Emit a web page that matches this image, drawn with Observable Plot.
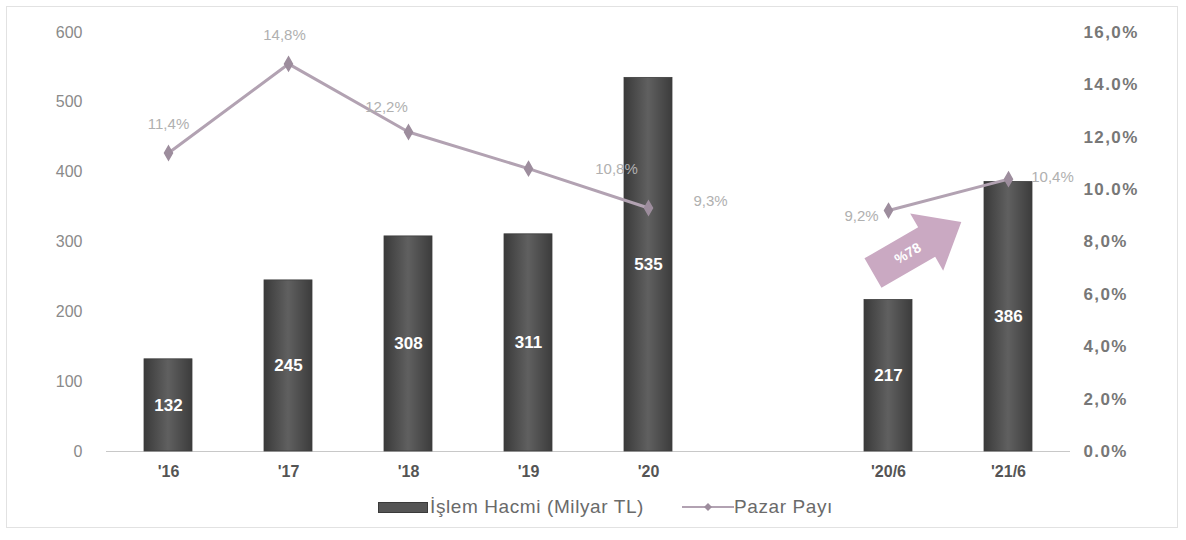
<!DOCTYPE html>
<html>
<head>
<meta charset="utf-8">
<script src="https://cdn.jsdelivr.net/npm/d3@7"></script>
<script src="https://cdn.jsdelivr.net/npm/@observablehq/plot@0.6"></script>
<style>
  html, body { margin: 0; padding: 0; background: #fff; }
  body { width: 1186px; height: 540px; position: relative; font-family: "Liberation Sans", Arial, sans-serif; overflow: hidden; }
  #frame { position: absolute; left: 6px; top: 6px; width: 1172px; height: 522px; border: 1px solid #e2e2e2; box-sizing: border-box; pointer-events: none; }
  #chart { position: absolute; left: 0; top: 0; }
  #legend { position: absolute; left: 378px; top: 496px; display: flex; align-items: center; font-size: 19px; letter-spacing: 0.6px; color: #6a6a6a; white-space: nowrap; }
  .sw-bar { width: 50px; height: 11px; background: #555; border: 1px solid #3a3a3a; margin-right: 2px; box-sizing: border-box; }
  .item { display: flex; align-items: center; }
  .raxis text { letter-spacing: 1.4px; }
</style>
</head>
<body>
<div id="frame"></div>
<div id="chart"></div>
<div id="legend"></div>
<script>
// ---- data ----
const categories = ["'16", "'17", "'18", "'19", "'20", "'20/6", "'21/6"];
const volume = [132, 245, 308, 311, 535, 217, 386];
const share = [11.4, 14.8, 12.2, 10.8, 9.3, 9.2, 10.4];
const shareLabels = ["11,4%", "14,8%", "12,2%", "10,8%", "9,3%", "9,2%", "10,4%"];
const segment = ["year", "year", "year", "year", "year", "half", "half"];
const xDomain = ["'16", "'17", "'18", "'19", "'20", "gap", "'20/6", "'21/6"];
const leftTicks = [0, 100, 200, 300, 400, 500, 600];
const rightTicks = [0, 2, 4, 6, 8, 10, 12, 14, 16];
const rightTickLabels = ["0.0%", "2,0%", "4,0%", "6,0%", "8,0%", "10.0%", "12,0%", "14.0%", "16,0%"];
const seriesNames = ["İşlem Hacmi (Milyar TL)", "Pazar Payı"];
const growthLabel = "%78";

// ---- build ----
const yMax = 600, pMax = 16, k = yMax / pMax;
const data = categories.map((c, i) => ({c, v: volume[i], s: share[i], lab: shareLabels[i], seg: segment[i], i}));
const labelOffsets = [[0, -29], [-4, -29], [-22, -25], [88, 1], [62, -7], [-27, 6], [44, -2]];

const lineColor = "#b2a2b2";
const font = "'Liberation Sans', Arial, sans-serif";
const plot = Plot.plot({
  width: 1186,
  height: 490,
  marginTop: 32,
  marginBottom: 39,
  marginLeft: 106,
  marginRight: 116,
  style: {fontFamily: font, background: "transparent"},
  x: {domain: xDomain, paddingInner: 0.6, paddingOuter: 0.3, label: null},
  y: {domain: [0, yMax], label: null},
  marks: [
    Plot.ruleY([0], {stroke: "#c8c8c8", strokeWidth: 1.2}),
    Plot.barY(data, {x: "c", y: "v", fill: "url(#barGrad)", stroke: "#3e3e3e", strokeWidth: 0.8}),
    Plot.text(data, {x: "c", y: d => d.v / 2, text: d => String(d.v), fill: "#fff", fontSize: 17, fontWeight: "bold"}),
    Plot.line(data, {x: "c", y: d => d.s * k, z: "seg", stroke: lineColor, strokeWidth: 3}),
    Plot.dot(data, {x: "c", y: d => d.s * k, symbol: "diamond", r: 4.2, fill: "#9d8d9d", stroke: "#9d8d9d"}),
    ...labelOffsets.map(([dx, dy], i) => Plot.text([data[i]], {x: "c", y: d => d.s * k, text: "lab", fill: "#b0b0b0", fontSize: 15, dx, dy})),
    Plot.axisX({tickSize: 0, tickPadding: 14, fontSize: 16, fontWeight: "bold", fill: "#555",
      tickFormat: d => d === "gap" ? "" : d}),
    Plot.axisY(leftTicks, {anchor: "left", tickSize: 0, tickPadding: 24, fontSize: 16, fill: "#8a8a8a", tickFormat: d => String(d)}),
    Plot.axisY(rightTicks.map(t => t * k), {anchor: "right", tickSize: 0, tickPadding: 13, fontSize: 17, fontWeight: "bold", fill: "#777",
      className: "raxis", tickFormat: (d) => rightTickLabels[rightTicks.indexOf(Math.round(d / k))]})
  ]
});

// gradient for bars
const svg = d3.select(plot);
const defs = svg.insert("defs", ":first-child");
const g = defs.append("linearGradient").attr("id", "barGrad").attr("x1", 0).attr("x2", 1).attr("y1", 0).attr("y2", 0);
g.append("stop").attr("offset", "0%").attr("stop-color", "#3a3a3a");
g.append("stop").attr("offset", "50%").attr("stop-color", "#606060");
g.append("stop").attr("offset", "100%").attr("stop-color", "#3c3c3c");

// growth arrow annotation positioned by scales
const xs = plot.scale("x"), ys = plot.scale("y");
const step = xs.step;
const cx = xs.apply("'20/6") + xs.bandwidth / 2 + 0.25 * step;
const cy = ys.apply(292);
const ag = svg.append("g").attr("transform", `translate(${cx},${cy}) rotate(-30)`);
ag.append("path")
  .attr("d", "M-52,-17 L10,-17 L10,-33 L50,0 L10,33 L10,17 L-52,17 Z")
  .attr("fill", "#caa9c2");
ag.append("text").attr("x", -12).attr("y", 5).attr("text-anchor", "middle")
  .attr("fill", "#fff").attr("font-weight", "bold").attr("font-size", 14)
  .attr("font-family", font).text(growthLabel);

document.getElementById("chart").appendChild(plot);

// legend
const lg = document.getElementById("legend");
lg.innerHTML = `
  <div class="item"><div class="sw-bar"></div><span>${seriesNames[0]}</span></div>
  <div class="item" style="margin-left:38px"><svg width="52" height="12"><line x1="0" y1="6" x2="52" y2="6" stroke="${lineColor}" stroke-width="2"/><path d="M26,2 L30,6 L26,10 L22,6 Z" fill="#9d8d9d"/></svg><span>${seriesNames[1]}</span></div>`;
</script>
</body>
</html>
